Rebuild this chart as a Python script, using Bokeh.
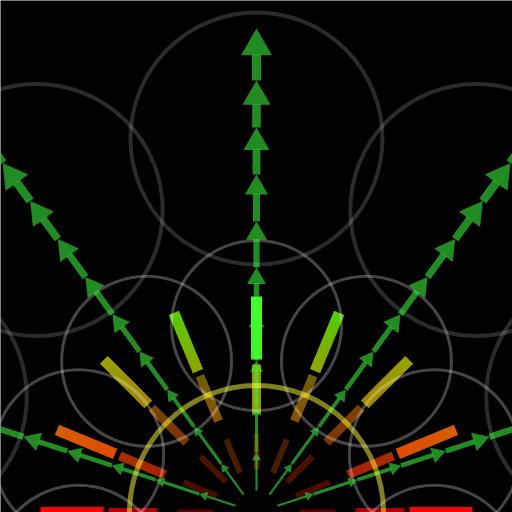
import numpy as np
from bokeh.plotting import figure
from bokeh.models import ColumnDataSource
from bokeh.embed import file_html
from bokeh.resources import INLINE

# bar directions (degrees, counter-clockwise from east) and the radial bands
bar_dirs = [0, 22.5, 45, 67.5, 90, 112.5, 135, 157.5, 180]
band_r0 = [43, 99, 153]
band_r1 = [79, 148, 216]

# bar colours for 0..90 deg (left half is the mirror), inner end / outer end
b1_in = ["#580000", "#4c0a00", "#4c1000", "#4c1a00", "#561200"]
b1_out = ["#5a0000", "#500c00", "#4a1600", "#442000", "#4c1800"]
b2_in = ["#aa0000", "#a52200", "#7a3200", "#8a5200", "#969600"]
b2_out = ["#b00000", "#a82e00", "#7a4600", "#6e6000", "#8c9a00"]
b3_in = ["#ff0000", "#e04c00", "#a08400", "#90a400", "#40f022"]
b3_out = ["#ff0000", "#d85c00", "#96a400", "#52cc00", "#44ff22"]

# green arrows: ray directions, start radius and the radii of the heads
ray_dirs = [18, 54, 90, 126, 162]
ray_start = 22
head_r = [60, 106, 152, 199, 245, 291, 338, 385, 432, 484]

# rings of grey circles
ring_dirs = [18, 54, 90, 126, 162, 198, 234, 270, 306, 342]
outer_dist, outer_rad = 374, 126
inner_dist, inner_rad = 187, 85
core_rad = 127


def full(half):
    return half + half[-2::-1]


def mix(c0, c1, t):
    a = [int(c0[i:i + 2], 16) for i in (1, 3, 5)]
    b = [int(c1[i:i + 2], 16) for i in (1, 3, 5)]
    return "#%02x%02x%02x" % tuple(int(round(a[k] + (b[k] - a[k]) * t)) for k in range(3))


p = figure(width=512, height=512, x_range=(-256, 256), y_range=(0, 512),
           output_backend="svg", toolbar_location=None, min_border=0,
           background_fill_color="black", border_fill_color="black",
           outline_line_color=None)
p.axis.visible = False
p.grid.visible = False

# bars, drawn in a few slices to get the colour gradient along them
band_w = [6, 9, 11]
n_sl = 6
bars = dict(x0=[], y0=[], x1=[], y1=[], color=[], w=[])
for b, (ci, co) in enumerate([(b1_in, b1_out), (b2_in, b2_out), (b3_in, b3_out)]):
    ci, co = full(ci), full(co)
    for d, deg in enumerate(bar_dirs):
        th = np.radians(deg)
        step = (band_r1[b] - band_r0[b]) / n_sl
        for s in range(n_sl):
            ra = band_r0[b] + s * step
            rb = min(ra + step + 0.8, band_r1[b])
            bars["x0"].append(ra * np.cos(th))
            bars["y0"].append(ra * np.sin(th))
            bars["x1"].append(rb * np.cos(th))
            bars["y1"].append(rb * np.sin(th))
            bars["color"].append(mix(ci[d], co[d], (s + 0.5) / n_sl))
            bars["w"].append(band_w[b])
p.segment("x0", "y0", "x1", "y1", source=ColumnDataSource(bars),
          line_color="color", line_width="w", line_cap="butt")

# grey circles
oth = np.radians(ring_dirs)
p.circle(outer_dist * np.cos(oth), outer_dist * np.sin(oth), radius=outer_rad,
         fill_color=None, line_color="white", line_alpha=0.17, line_width=4)
p.circle(inner_dist * np.cos(oth), inner_dist * np.sin(oth), radius=inner_rad,
         fill_color=None, line_color="white", line_alpha=0.27, line_width=3)

# arrows along each ray, growing outward: shafts stop at the head bases,
# heads are triangle markers whose tip sits on head_r
seg_w = [2.2, 3.0, 3.8, 4.6, 5.4, 6.2, 7.0, 7.8, 8.6, 9.2]
head_s = [9, 10, 13, 16, 19, 21, 23, 26, 28, 31]
green = "#3cff3c"
shaft = dict(x0=[], y0=[], x1=[], y1=[], w=[])
heads = dict(x=[], y=[], size=[], angle=[])
for deg in ray_dirs:
    th = np.radians(deg)
    c, s = np.cos(th), np.sin(th)
    r0 = ray_start
    for k, r1 in enumerate(head_r):
        h = head_s[k] * np.sqrt(3) / 2
        rb = r1 - h + 0.5
        shaft["x0"].append(r0 * c)
        shaft["y0"].append(r0 * s)
        shaft["x1"].append(rb * c)
        shaft["y1"].append(rb * s)
        shaft["w"].append(seg_w[k])
        rc = r1 - 2 * h / 3
        heads["x"].append(rc * c)
        heads["y"].append(rc * s)
        heads["size"].append(head_s[k])
        heads["angle"].append(th - np.pi / 2)
        r0 = r1
p.segment("x0", "y0", "x1", "y1", source=ColumnDataSource(shaft),
          line_color=green, line_alpha=0.55, line_width="w", line_cap="butt")
p.scatter("x", "y", source=ColumnDataSource(heads), marker="triangle",
          size="size", angle="angle", fill_color=green, fill_alpha=0.55,
          line_color=None)

# yellow circle around the centre, on top
p.circle([0], [0], radius=core_rad, fill_color=None, line_color="#ffff3c",
         line_alpha=0.5, line_width=5, level="overlay")

open("out.html", "w").write(file_html(p, INLINE))
